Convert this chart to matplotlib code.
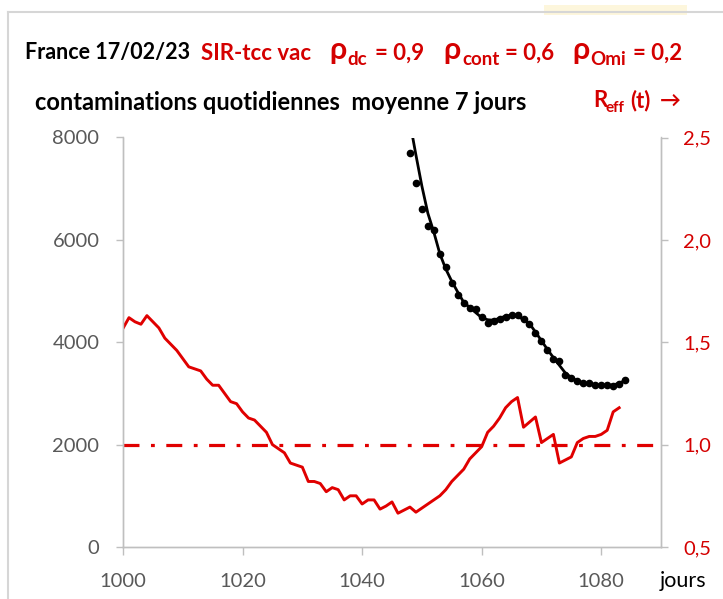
import numpy as np
import matplotlib
matplotlib.use("Agg")
import matplotlib.pyplot as plt
from matplotlib.patches import Rectangle
from matplotlib.lines import Line2D

plt.rcParams["font.family"] = ["Lato", "DejaVu Sans"]

# contaminations quotidiennes (moyenne 7 jours), points et courbe lissée
days_obs = list(range(1048, 1085))
cases_obs = [7694, 7108, 6595, 6263, 6185, 5717, 5470, 5157, 4917, 4761,
             4663, 4644, 4488, 4377, 4416, 4462, 4494, 4540, 4540, 4462,
             4351, 4182, 4025, 3844, 3681, 3635, 3369, 3311, 3245, 3213,
             3213, 3161, 3161, 3161, 3142, 3194, 3258]
cases_fit = [8300, 7660, 7050, 6520, 6150, 5730, 5430, 5190, 4980, 4780,
             4680, 4580, 4480, 4440, 4430, 4470, 4510, 4525, 4500, 4450,
             4364, 4200, 4030, 3860, 3700, 3550, 3400, 3310, 3245, 3205,
             3180, 3165, 3160, 3160, 3165, 3200, 3255]

# R effectif
days_r = list(range(1000, 1084))
reff = [1.568, 1.62, 1.60, 1.588, 1.63, 1.60, 1.57, 1.52, 1.49, 1.46,
        1.42, 1.38, 1.37, 1.36, 1.32, 1.29, 1.29, 1.25, 1.21, 1.20,
        1.16, 1.13, 1.12, 1.09, 1.06, 1.00, 0.98, 0.96, 0.91, 0.90,
        0.89, 0.82, 0.82, 0.81, 0.77, 0.79, 0.78, 0.73, 0.75, 0.75,
        0.71, 0.73, 0.73, 0.685, 0.70, 0.72, 0.665, 0.68, 0.695, 0.67,
        0.69, 0.71, 0.73, 0.75, 0.78, 0.82, 0.85, 0.88, 0.93, 0.96,
        0.99, 1.06, 1.09, 1.13, 1.18, 1.21, 1.23, 1.085, 1.11, 1.135,
        1.01, 1.03, 1.05, 0.91, 0.925, 0.94, 1.01, 1.03, 1.04, 1.04,
        1.05, 1.07, 1.16, 1.18]

x_ticks = [1000, 1020, 1040, 1060, 1080]
y_ticks = [0, 2000, 4000, 6000, 8000]
r_ticks = [0.5, 1.0, 1.5, 2.0, 2.5]
r_labels = ["0,5", "1,0", "1,5", "2,0", "2,5"]

RED = "#e00000"
RED_TXT = "#d40000"
GREY_TXT = "#595959"
SPINE = "#bfbfbf"

W, H = 723, 599
fig = plt.figure(figsize=(W / 100, H / 100), dpi=100)


def fx(px):
    return px / W


def fy(py):
    return 1 - py / H


# bord de la capture
fig.add_artist(Line2D([fx(8), fx(8)], [fy(12), 0], color="#d6d6d6", lw=1.5))
fig.add_artist(Line2D([fx(8), 1], [fy(12), fy(12)], color="#d6d6d6", lw=1.5))
fig.add_artist(Rectangle((fx(544), fy(15)), fx(143), 10 / H, color="#fdf6dc", lw=0))

ax = fig.add_axes([fx(123), fy(547), fx(661 - 123), (547 - 137.5) / H])
ax2 = ax.twinx()

ax.plot(days_obs, cases_fit, color="black", lw=2.0, zorder=3)
ax.plot(days_obs, cases_obs, "o", color="black", ms=4.5, zorder=4)

ax2.plot(days_r, reff, color=RED, lw=2.1, zorder=3)
ax2.axhline(1.0, color=RED, lw=2.3, dashes=(5.0, 3.6, 1.2, 3.6))

ax.set_xlim(1000, 1090)
ax.set_ylim(0, 8000)
ax2.set_ylim(0.5, 2.5)

ax.set_xticks(x_ticks)
ax.set_yticks(y_ticks)
ax2.set_yticks(r_ticks)
ax2.set_yticklabels(r_labels)

for a in (ax, ax2):
    a.spines["top"].set_visible(False)
    for s in ("left", "right", "bottom"):
        a.spines[s].set_color(SPINE)
        a.spines[s].set_linewidth(1.0)

ax.tick_params(axis="x", length=5.5, width=1, color=SPINE, labelcolor=GREY_TXT,
               labelsize=14.5, pad=13)
ax.tick_params(axis="y", length=5, width=1, color=SPINE, labelcolor=GREY_TXT,
               labelsize=14.5, pad=12)
ax2.tick_params(axis="y", length=5, width=1, color=SPINE, labelcolor=RED_TXT,
                labelsize=14.5, pad=11)

ax.set_zorder(ax2.get_zorder() + 1)
ax.patch.set_visible(False)

# titres
big = 15.5
fig.text(fx(25), fy(59.5), "France 17/02/23", color="black", fontsize=big,
         fontweight="bold", va="baseline")
fig.text(fx(201), fy(59.5), "SIR-tcc vac", color=RED_TXT, fontsize=16,
         fontweight="bold", va="baseline")
for x_rho, sub, x_sub, val, x_val in [(329, "dc", 347, "= 0,9", 375),
                                      (443, "cont", 462, "= 0,6", 505),
                                      (572, "Omi", 590, "= 0,2", 633)]:
    fig.text(fx(x_rho), fy(59.5), "ρ", color=RED_TXT, fontsize=22,
             fontweight="bold", va="baseline")
    fig.text(fx(x_sub), fy(65), sub, color=RED_TXT, fontsize=13.5,
             fontweight="bold", va="baseline")
    fig.text(fx(x_val), fy(59.5), val, color=RED_TXT, fontsize=16,
             fontweight="bold", va="baseline")

fig.text(fx(35), fy(110), "contaminations quotidiennes  moyenne 7 jours",
         color="black", fontsize=17, fontweight="bold", va="baseline")
fig.text(fx(593), fy(107), "R", color=RED_TXT, fontsize=16,
         fontweight="bold", va="baseline")
fig.text(fx(606), fy(112), "eff", color=RED_TXT, fontsize=11,
         fontweight="bold", va="baseline")
fig.text(fx(630), fy(107), "(t)", color=RED_TXT, fontsize=16,
         fontweight="bold", va="baseline")
fig.text(fx(660), fy(107), "→", color=RED_TXT, fontsize=15,
         fontweight="bold", va="baseline")

fig.text(fx(660), fy(587), "jours", color="black", fontsize=15.5, va="baseline")

fig.savefig("out.png", dpi=100)
